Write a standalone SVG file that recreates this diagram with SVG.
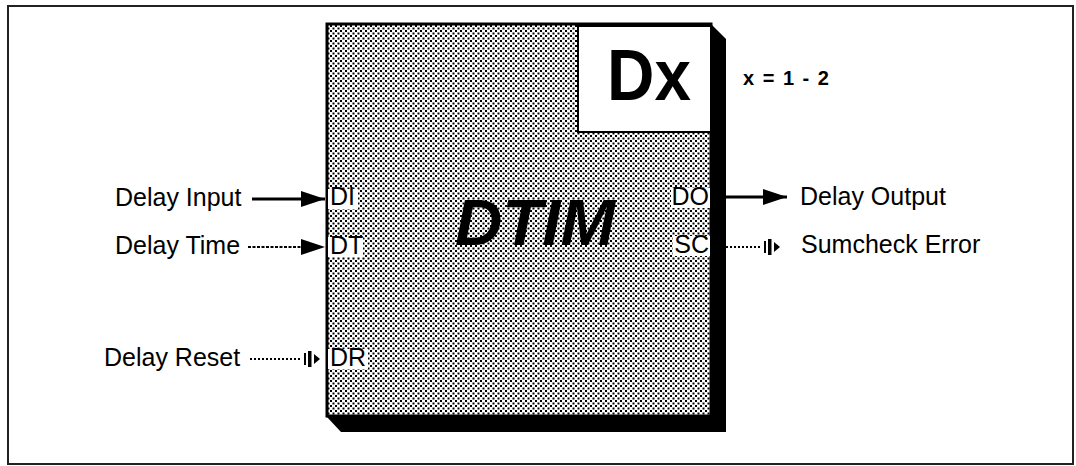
<svg xmlns="http://www.w3.org/2000/svg" width="1076" height="466" viewBox="0 0 1076 466">
<defs>
<pattern id="dots" width="5" height="5" patternUnits="userSpaceOnUse">
<rect width="5" height="5" fill="#fff"/>
<rect x="0" y="0" width="2" height="2" fill="#000"/>
<rect x="2.5" y="2.5" width="2" height="2" fill="#000"/>
</pattern>
<marker id="arr" markerWidth="24" markerHeight="16" refX="24" refY="8" orient="auto" markerUnits="userSpaceOnUse">
<path d="M0,0 L24,8 L0,16 Z" fill="#000"/>
</marker>
<g id="bar">
<rect x="0" y="-6" width="2" height="12" fill="#000"/>
<rect x="4" y="-8" width="3.5" height="16" fill="#000"/>
<path d="M10,-5 L16,0 L10,5 Z" fill="#000"/>
</g>
</defs>
<style>
text{font-family:"Liberation Sans",Arial,sans-serif;fill:#000}
.lbl{font-size:25px}
.port{font-size:25px}
.solid{stroke:#000;stroke-width:3;fill:none}
.dash{stroke:#000;stroke-width:2;fill:none;stroke-dasharray:3 1.5}
.dot{stroke:#000;stroke-width:2;fill:none;stroke-dasharray:2 2}
</style>
<rect x="8" y="6" width="1065" height="458" fill="#fff" stroke="#222" stroke-width="2"/>
<g id="dtim">
<polygon points="711,24 726,39 726,432 341,432 326,416" fill="#000"/>
<rect x="327" y="24" width="384" height="392" fill="url(#dots)" stroke="#000" stroke-width="3"/>
<rect x="578" y="26" width="133" height="106" fill="#fff" stroke="#000" stroke-width="2"/>
<text x="649" y="100" font-size="72" font-weight="bold" text-anchor="middle" textLength="84" lengthAdjust="spacingAndGlyphs">Dx</text>
<text x="455" y="245" font-size="64" font-weight="bold" font-style="italic" textLength="160" lengthAdjust="spacingAndGlyphs">DTIM</text>
<rect x="328" y="189" width="30" height="20" fill="#fff"/>
<text class="port" x="330" y="205">DI</text>
<rect x="328" y="237" width="35" height="20" fill="#fff"/>
<text class="port" x="330" y="254">DT</text>
<rect x="328" y="349" width="40" height="20" fill="#fff"/>
<text class="port" x="330" y="366">DR</text>
<rect x="671" y="188" width="39" height="20" fill="#fff"/>
<text class="port" x="709" y="205" text-anchor="end">DO</text>
<rect x="673" y="236" width="37" height="20" fill="#fff"/>
<text class="port" x="709" y="253" text-anchor="end">SC</text>
</g>
<text x="743" y="85" font-size="20" font-weight="bold" word-spacing="3">x = 1 - 2</text>
<g id="connectors">
<line class="solid" x1="252" y1="199" x2="325" y2="199" marker-end="url(#arr)"/>
<line class="dash" x1="248" y1="247" x2="310" y2="247"/>
<path d="M301,239 L325,247 L301,255 Z" fill="#000"/>
<line class="dot" x1="250" y1="359" x2="302" y2="359"/>
<use href="#bar" x="304" y="359"/>
<line class="solid" x1="726" y1="197" x2="787" y2="197" marker-end="url(#arr)"/>
<line class="dot" x1="726" y1="247" x2="762" y2="247"/>
<use href="#bar" x="764" y="247"/>
</g>
<g id="labels">
<text class="lbl" x="115" y="206">Delay Input</text>
<text class="lbl" x="115" y="254">Delay Time</text>
<text class="lbl" x="104" y="366">Delay Reset</text>
<text class="lbl" x="800" y="205">Delay Output</text>
<text class="lbl" x="801" y="253">Sumcheck Error</text>
</g>
</svg>
